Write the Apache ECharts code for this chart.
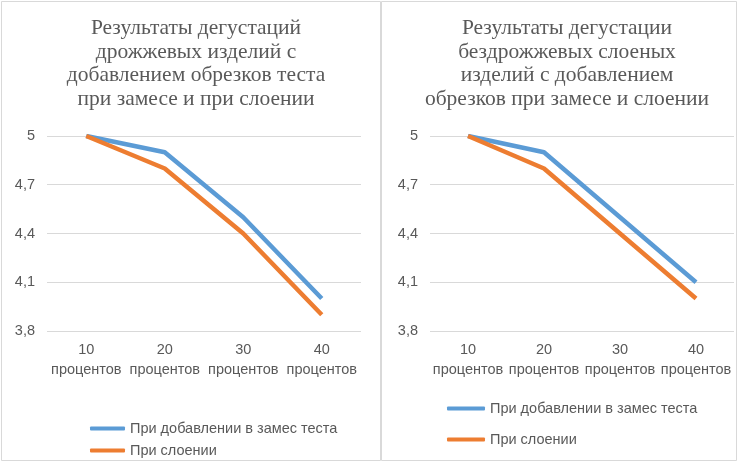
<!DOCTYPE html>
<html>
<head>
<meta charset="utf-8">
<script src="https://cdn.jsdelivr.net/npm/echarts@6/dist/echarts.min.js"></script>
<style>
html,body{margin:0;padding:0;background:#fff;}
#c{width:740px;height:463px;}
</style>
</head>
<body>
<div id="c"></div>
<script>
const categories = ['10\nпроцентов', '20\nпроцентов', '30\nпроцентов', '40\nпроцентов'];
const seriesNames = ['При добавлении в замес теста', 'При слоении'];
const leftTitle = 'Результаты дегустаций\nдрожжевых изделий с\nдобавлением обрезков теста\nпри замесе и при слоении';
const rightTitle = 'Результаты дегустации\nбездрожжевых слоеных\nизделий с добавлением\nобрезков при замесе и слоении';
const leftKneading = [5, 4.9, 4.5, 4.0];
const leftLayering = [5, 4.8, 4.4, 3.9];
const rightKneading = [5, 4.9, 4.5, 4.1];
const rightLayering = [5, 4.8, 4.4, 4.0];
const yMin = 3.8, yMax = 5, yStep = 0.3;

const colors = ['#5B9BD5', '#ED7D31'];
const textColor = '#595959';
const sans = 'Liberation Sans';

function xAxis(gi) {
  return {
    type: 'category', gridIndex: gi, data: categories, boundaryGap: true,
    axisLine: {show: false}, axisTick: {show: false},
    axisLabel: {color: textColor, fontFamily: sans, fontSize: 14.5, lineHeight: 20, margin: 9, interval: 0}
  };
}
function yAxis(gi) {
  return {
    type: 'value', gridIndex: gi, min: yMin, max: yMax, interval: yStep,
    axisLine: {show: false}, axisTick: {show: false},
    splitLine: {lineStyle: {color: '#d9d9d9', width: 1}},
    axisLabel: {color: textColor, fontFamily: sans, fontSize: 14.5, margin: 12,
      formatter: v => String(+(+v).toFixed(1)).replace('.', ',')}
  };
}
function line(name, data, gi, ci) {
  return {
    type: 'line', name: name, data: data, xAxisIndex: gi, yAxisIndex: gi,
    showSymbol: false, symbol: 'none', silent: true,
    lineStyle: {color: colors[ci], width: 4.5}, itemStyle: {color: colors[ci]}
  };
}
const titleStyle = {fontFamily: 'Liberation Serif', fontSize: 21.5, lineHeight: 23.5, color: textColor, fontWeight: 'normal'};

const chart = echarts.init(document.getElementById('c'), null, {renderer: 'canvas'});
chart.setOption({
  animation: false,
  backgroundColor: '#fff',
  graphic: [
    {type: 'rect', shape: {x: 1.5, y: 1.5, width: 379, height: 459}, style: {fill: 'none', stroke: '#d9d9d9', lineWidth: 1}, z: -1},
    {type: 'rect', shape: {x: 381.5, y: 1.5, width: 355, height: 459}, style: {fill: 'none', stroke: '#d9d9d9', lineWidth: 1}, z: -1}
  ],
  title: [
    {text: leftTitle, left: 191, top: 12, textAlign: 'center', textStyle: titleStyle},
    {text: rightTitle, left: 562, top: 12, textAlign: 'center', textStyle: titleStyle}
  ],
  legend: [
    {orient: 'vertical', left: 85, top: 416, height: 60, itemGap: 7, itemWidth: 35, itemHeight: 4, icon: 'roundRect',
     textStyle: {color: textColor, fontFamily: sans, fontSize: 14.5}, data: seriesNames, selectedMode: false},
    {orient: 'vertical', left: 442, top: 396, height: 80, itemGap: 16, itemWidth: 38, itemHeight: 4, icon: 'roundRect',
     textStyle: {color: textColor, fontFamily: sans, fontSize: 14.5}, data: seriesNames, selectedMode: false}
  ],
  grid: [
    {left: 47, right: 379, top: 136, bottom: 132},
    {left: 430, right: 6, top: 136, bottom: 132}
  ],
  xAxis: [xAxis(0), xAxis(1)],
  yAxis: [yAxis(0), yAxis(1)],
  series: [
    line(seriesNames[0], leftKneading, 0, 0),
    line(seriesNames[1], leftLayering, 0, 1),
    line(seriesNames[0], rightKneading, 1, 0),
    line(seriesNames[1], rightLayering, 1, 1)
  ]
});
</script>
</body>
</html>
